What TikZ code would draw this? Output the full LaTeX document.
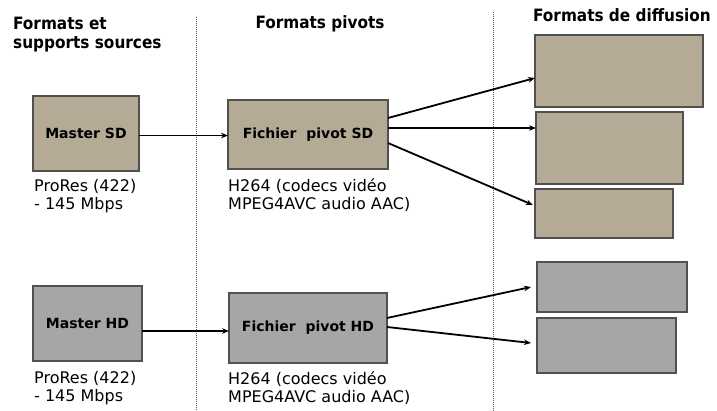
\documentclass[tikz,border=0pt]{standalone}
\usepackage{fontspec}
\usetikzlibrary{arrows.meta}
\setmainfont{DejaVu Sans}
\newfontfamily\headfont{DejaVu Sans Condensed}
\definecolor{sdfill}{RGB}{180,170,150}
\definecolor{hdfill}{RGB}{166,166,166}
\definecolor{boxline}{RGB}{80,80,80}

\begin{document}
\begin{tikzpicture}[x=1pt,y=-1pt,
    box/.style={draw=boxline, line width=1.2pt, inner sep=0pt, outer sep=0pt, font=\bfseries\fontsize{14}{16}\selectfont},
    sd/.style={box, fill=sdfill},
    hd/.style={box, fill=hdfill},
    info/.style={anchor=north west, align=left, inner sep=0pt, font=\fontsize{16}{18}\selectfont},
    head/.style={font=\headfont\bfseries\fontsize{17}{19}\selectfont, align=left, inner sep=0pt},
    link/.style={line width=1.8pt, -{Stealth[length=7pt,width=5.5pt]}}]
      \useasboundingbox (0,0) rectangle (717,411);
      \draw[black!65, line width=0.9pt, dash pattern=on 1pt off 1pt] (196,17) -- (196,411);
      \draw[black!65, line width=0.9pt, dash pattern=on 1pt off 1pt] (493,12) -- (493,411);
      \node[head, anchor=north west] (hsrc) at (13,17) {Formats et\\supports sources};
      \node[head, anchor=base] (hpiv) at (320,29) {Formats pivots};
      \node[head, anchor=base] (hdif) at (622,22) {Formats de diffusion};
      % SD
      \node[sd, minimum width=106pt, minimum height=75pt] (msd) at (86,133.5) {Master SD};
      \node[sd, minimum width=160pt, minimum height=69pt] (psd) at (308,134.5) {Fichier~ pivot SD};
      \node[info] (tmsd) at (34,179) {ProRes (422)\\- 145 Mbps};
      \node[info] (tpsd) at (228,179) {H264 (codecs vidéo\\MPEG4AVC audio AAC)};
      \node[sd, minimum width=168pt, minimum height=72pt] (dsd1) at (619,71) {};
      \node[sd, minimum width=147pt, minimum height=72pt] (dsd2) at (609.5,148) {};
      \node[sd, minimum width=138pt, minimum height=49pt] (dsd3) at (604,213.5) {};
      \draw[link] ([yshift=-2pt]msd.east) -- ([yshift=-1pt]psd.west);
      \draw[link] ([yshift=16.5pt]psd.east) -- ([yshift=-7pt]dsd1.west);
      \draw[link] ([yshift=6.5pt]psd.east) -- ([yshift=20pt]dsd2.west);
      \draw[link] ([yshift=-8.5pt]psd.east) -- ([xshift=-2pt,yshift=8.5pt]dsd3.west);
      % HD
      \node[hd, minimum width=109pt, minimum height=75pt] (mhd) at (87.5,323.5) {Master HD};
      \node[hd, minimum width=158pt, minimum height=70pt] (phd) at (308,328) {Fichier~ pivot HD};
      \node[info] (tmhd) at (34,371.5) {ProRes (422)\\- 145 Mbps};
      \node[info] (tphd) at (228,371.5) {H264 (codecs vidéo\\MPEG4AVC audio AAC)};
      \node[hd, minimum width=150pt, minimum height=50pt] (dhd1) at (612,287) {};
      \node[hd, minimum width=139pt, minimum height=55pt] (dhd2) at (606.5,345.5) {};
      \draw[link] ([yshift=-7.5pt]mhd.east) -- ([yshift=-3pt]phd.west);
      \draw[link] ([yshift=10pt]phd.east) -- ([xshift=-6pt]dhd1.west);
      \draw[link] ([yshift=1pt]phd.east) -- ([xshift=-6pt,yshift=2.5pt]dhd2.west);
\end{tikzpicture}
\end{document}
